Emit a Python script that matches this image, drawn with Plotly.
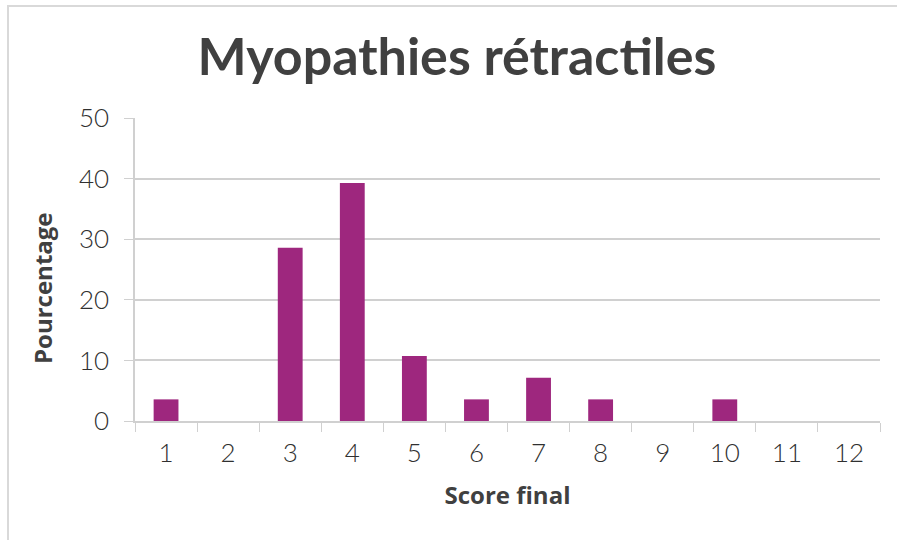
import plotly.graph_objects as go

# scores finaux et pourcentages (n = 28)
scores = ["1", "2", "3", "4", "5", "6", "7", "8", "9", "10", "11", "12"]
pourcentages = [3.57, 0, 28.57, 39.29, 10.71, 3.57, 7.14, 3.57, 0, 3.57, 0, 0]
y_ticks = [0, 10, 20, 30, 40, 50]

W, H = 897, 540
L, R, T, B = 135, 17, 118, 119
pw, ph = W - L - R, H - T - B

fig = go.Figure()
fig.add_trace(go.Bar(x=scores, y=pourcentages, marker_color="#9E277E",
                     marker_line_width=0, width=0.4))

gris = "#404040"
font_txt = "Lato, 'Open Sans', sans-serif"
font_titre_axe = "'Open Sans', Lato, sans-serif"
fig.update_layout(
    width=W, height=H,
    margin=dict(l=L, r=R, t=T, b=B),
    paper_bgcolor="white", plot_bgcolor="white",
    showlegend=False,
    title=dict(text="<b>Myopathies rétractiles</b>", x=457 / W, xref="container",
               xanchor="center", y=1 - 57 / H, yanchor="middle",
               font=dict(family=font_txt, size=52, color=gris)),
    font=dict(family=font_txt, color=gris),
)
fig.update_xaxes(
    type="category", tickson="boundaries", ticks="outside", ticklen=9,
    tickcolor="#d0d0d0", showline=True, linecolor="#d0d0d0", linewidth=1.5,
    showgrid=False, tickfont=dict(size=26, color="#303030", weight=300),
    ticklabelstandoff=8,
    title=dict(text="<b>Score final</b>",
               font=dict(family=font_titre_axe, size=24, color=gris), standoff=20),
)
fig.update_yaxes(
    range=[0, 50], tickvals=y_ticks, ticks="outside", ticklen=9,
    tickcolor="#d0d0d0", showline=True, linecolor="#d0d0d0", linewidth=1.5,
    gridcolor="#d0d0d0", gridwidth=1.5, zeroline=False,
    tickfont=dict(size=26, color="#303030", weight=300),
    ticklabelstandoff=10,
)
# titre de l'axe Y, un peu sous le centre comme dans l'original
fig.add_annotation(text="<b>Pourcentage</b>", textangle=-90, showarrow=False,
                   xref="paper", yref="paper",
                   x=(42 - L) / pw, y=(H - B - 288) / ph,
                   xanchor="center", yanchor="middle",
                   font=dict(family=font_titre_axe, size=24, color=gris))
# cadre gris clair du graphique
fig.add_shape(type="rect", xref="paper", yref="paper",
              x0=(8 - L) / pw, x1=(W + 5 - L) / pw,
              y0=-(B + 5) / ph, y1=(H - B - 6) / ph,
              line=dict(color="#d9d9d9", width=2), layer="below")
fig.write_html("out.html", config={"displayModeBar": False},
               post_script="document.body.style.margin='0';")
